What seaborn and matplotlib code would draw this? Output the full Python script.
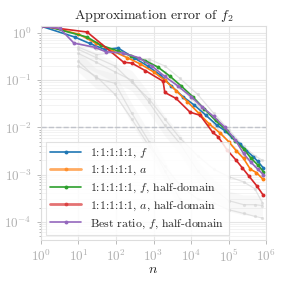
import numpy as np
import pandas as pd
import seaborn as sns
import matplotlib.pyplot as plt

# ===== style =====
sns.set_theme(style="whitegrid")
plt.rcParams['font.family'] = 'serif'
plt.rcParams['font.serif'] = ['cmr10']
plt.rcParams['mathtext.fontset'] = 'cm'
plt.rcParams['axes.formatter.use_mathtext'] = True
plt.rcParams['axes.unicode_minus'] = False

# ===== data =====
n_blue = [1, 8, 20, 50, 113, 300, 700, 1500, 3000, 6000, 12000, 25000, 50000,
          80000, 120000, 200000, 300000, 450000, 600000, 830000]
e_blue = [1.4, 0.82, 0.6, 0.45, 0.48, 0.3, 0.2, 0.13, 0.075, 0.045, 0.03, 0.018,
          0.011, 0.0085, 0.0062, 0.0045, 0.0032, 0.0024, 0.0019, 0.0014]

n_orange = [1, 10, 30, 80, 200, 450, 1000, 2000, 4000, 8000, 16000, 30000, 60000,
            100000, 160000, 250000, 380000, 550000, 820000]
e_orange = [1.5, 0.95, 0.6, 0.42, 0.3, 0.22, 0.15, 0.1, 0.06, 0.035, 0.02, 0.012,
            0.0075, 0.005, 0.0032, 0.0022, 0.0013, 0.0011, 0.0008]

n_green = [1, 17, 40, 110, 250, 600, 1300, 2800, 5500, 11000, 22000, 45000, 90000,
           150000, 250000, 400000, 600000, 850000]
e_green = [1.5, 0.82, 0.55, 0.42, 0.33, 0.26, 0.19, 0.12, 0.075, 0.045, 0.025,
           0.014, 0.0085, 0.0052, 0.0035, 0.0022, 0.0016, 0.00115]

n_red = [1, 17, 160, 265, 600, 1800, 2000, 4000, 9400, 17500, 38000, 52000, 92000,
         160000, 230000, 340000, 560000, 830000]
e_red = [1.4, 1.05, 0.24, 0.23, 0.16, 0.095, 0.055, 0.041, 0.021, 0.018, 0.0078,
         0.0064, 0.0033, 0.002, 0.0014, 0.00095, 0.00058, 0.00037]

n_purple = [1, 3.2, 7.6, 27, 54, 150, 400, 900, 2000, 4500, 10000, 20000, 40000,
            80000, 150000, 250000, 400000, 600000, 850000]
e_purple = [1.4, 1.25, 0.61, 0.5, 0.4, 0.38, 0.3, 0.2, 0.12, 0.075, 0.045, 0.027,
            0.017, 0.01, 0.0055, 0.0028, 0.0018, 0.0013, 0.001]

# faint gray background runs
n_gray = [10, 30, 94, 263, 760, 2000, 5000, 15000, 40000, 100000, 250000, 500000, 800000]
gray_runs = [
    [0.25, 0.11, 0.086, 0.02, 0.005, 0.0012, 0.0003, np.nan, np.nan, np.nan, np.nan, np.nan, np.nan],
    [0.37, 0.24, 0.15, 0.1, 0.034, 0.011, 0.0046, 0.0012, 0.0005, 0.00028, 0.00023, 0.00023, 0.00022],
    [0.6, 0.45, 0.4, 0.32, 0.25, 0.15, 0.07, 0.03, 0.012, 0.005, 0.0025, 0.0015, 0.001],
    [0.5, 0.35, 0.38, 0.3, 0.28, 0.2, 0.11, 0.05, 0.02, 0.009, 0.004, 0.0025, 0.002],
    [0.2, 0.12, 0.05, 0.015, 0.004, 0.0015, 0.0006, 0.0003, 0.00025, 0.00018, 0.00015, 0.00013, 0.00012],
    [0.45, 0.3, 0.2, 0.09, 0.04, 0.015, 0.006, 0.0025, 0.0013, 0.0009, 0.0007, 0.0005, 0.00025],
]

series = [
    (n_blue, e_blue, "1:1:1:1:1, $f$", "#1f77b4"),
    (n_orange, e_orange, "1:1:1:1:1, $a$", "#ff7f0e"),
    (n_green, e_green, "1:1:1:1:1, $f$, half-domain", "#2ca02c"),
    (n_red, e_red, "1:1:1:1:1, $a$, half-domain", "#d62728"),
    (n_purple, e_purple, "Best ratio, $f$, half-domain", "#9467bd"),
]

# ===== figure =====
fig = plt.figure(figsize=(2.84, 2.84), dpi=100)
ax = fig.add_axes([0.144, 0.155, 0.793, 0.753])

for i, run in enumerate(gray_runs):
    run = np.array(run)
    if i in (0, 1):
        ax.fill_between(n_gray, run * 0.6, run * 1.6, color="#dcdcdc", alpha=0.18, lw=0)
    sns.lineplot(x=n_gray, y=run, ax=ax, color="#d2d2d2", lw=0.9, marker="o",
                 markersize=2.3, markeredgewidth=0, alpha=0.6, legend=False)

ax.axhline(1e-2, color="#c0c3ca", ls="--", lw=1.0)

for n, e, lab, col in series:
    sns.lineplot(x=n, y=e, ax=ax, color=col, lw=1.2, marker="o", markersize=2.8,
                 markeredgewidth=0, label=lab, sort=False)

ax.set_xscale("log")
ax.set_yscale("log")
ax.set_xlim(1, 1e6)
ax.set_ylim(4.1e-5, 1.4)

ax.grid(True, which="major", color="#e6e6e6", lw=0.8)
ax.grid(True, which="minor", color="#efefef", lw=0.5)
for s in ax.spines.values():
    s.set_color("#dddddd")
    s.set_linewidth(0.8)
ax.tick_params(which="both", colors="#b0b0b0", labelsize=9.5, length=3, width=0.6,
               bottom=True, left=True)
ax.tick_params(which="minor", length=1.8)
ax.set_xticks([1e0, 1e1, 1e2, 1e3, 1e4, 1e5, 1e6])

ax.set_title("Approximation error of $f_2$", fontsize=10, pad=5)
ax.set_xlabel("$n$", fontsize=10, labelpad=-1)
ax.set_ylabel("")

leg = ax.legend(loc="lower left", fontsize=8.5, frameon=True, framealpha=0.85,
                edgecolor="#dddddd", fancybox=False, handlelength=2.6,
                handletextpad=0.8, borderpad=0.4, labelspacing=0.3,
                borderaxespad=0.4)
leg.get_frame().set_linewidth(0.8)
# orange and red handles look wider and paler in the original
for k in (1, 3):
    h = leg.get_lines()[k]
    h.set_linewidth(2.0)
    h.set_alpha(0.65)

plt.savefig("out.png", dpi=100)
